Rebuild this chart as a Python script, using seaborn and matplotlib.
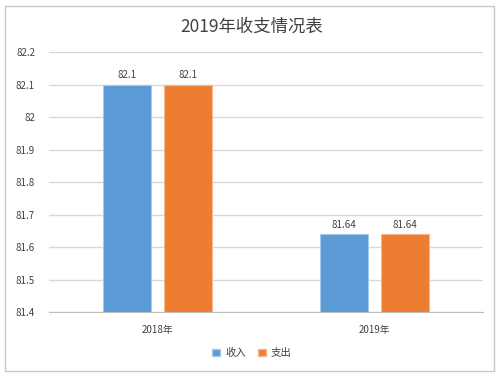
import matplotlib
matplotlib.use("Agg")
import matplotlib.pyplot as plt
import seaborn as sns
import pandas as pd
from matplotlib.patches import Rectangle

years = ["2018年", "2019年"]
series = ["收入", "支出"]
income = [82.1, 81.64]
expense = [82.1, 81.64]
yticks = [81.4, 81.5, 81.6, 81.7, 81.8, 81.9, 82.0, 82.1, 82.2]
ytick_labels = ["81.4", "81.5", "81.6", "81.7", "81.8", "81.9", "82", "82.1", "82.2"]

df = pd.DataFrame({
    "year": years * 2,
    "kind": [series[0]] * 2 + [series[1]] * 2,
    "value": income + expense,
})

sns.set_style("white")
plt.rcParams['font.family'] = ['Noto Sans CJK SC', 'DejaVu Sans']

pal = {"收入": "#5B9BD5", "支出": "#ED7D31"}
edges = {"收入": "#A9C9EA", "支出": "#F5B88F"}

fig = plt.figure(figsize=(5.04, 3.77), dpi=100)
ax = fig.add_axes([0.0972, 0.1724, 0.8611, 0.6896])

sns.barplot(data=df, x="year", y="value", hue="kind", order=years,
            hue_order=series, palette=pal, width=0.567, gap=0.22,
            saturation=1, ax=ax, legend=False)

for cont, name in zip(ax.containers, series):
    for p in cont:
        p.set_edgecolor(edges[name])
        p.set_linewidth(0.8)
    vals = income if name == "收入" else expense
    ax.bar_label(cont, labels=[str(v) for v in vals],
                 padding=3, fontsize=7, color="#404040")

ax.set_ylim(81.4, 82.2)
ax.set_xlim(-0.5, 1.5)
ax.set_yticks(yticks)
ax.set_yticklabels(ytick_labels)
ax.tick_params(axis="both", length=0, labelsize=7, colors="#404040")
ax.tick_params(axis="y", pad=10)
ax.tick_params(axis="x", pad=9)
ax.yaxis.grid(True, color="#D9D9D9", linewidth=1)
ax.set_axisbelow(True)
for s in ["left", "right", "top"]:
    ax.spines[s].set_visible(False)
ax.spines["bottom"].set_color("#BFBFBF")
ax.set_xlabel("")
ax.set_ylabel("")

fig.text(0.5, 0.928, "2019年收支情况表", ha="center", va="center",
         fontsize=12.5, color="#404040")

handles = [Rectangle((0, 0), 1, 1, facecolor=pal[s], edgecolor=edges[s]) for s in series]
fig.legend(handles, series, loc="center", bbox_to_anchor=(0.5, 0.063), ncol=2,
           frameon=False, fontsize=7.5, handlelength=0.7, handleheight=0.7,
           handletextpad=0.5, columnspacing=1.2, labelcolor="#404040")

fig.patches.append(Rectangle((5 / 504, 6 / 377), 489 / 504, 365 / 377,
                             transform=fig.transFigure, fill=False,
                             edgecolor="#C8C8C8", linewidth=1))

fig.savefig("out.png", dpi=100)
